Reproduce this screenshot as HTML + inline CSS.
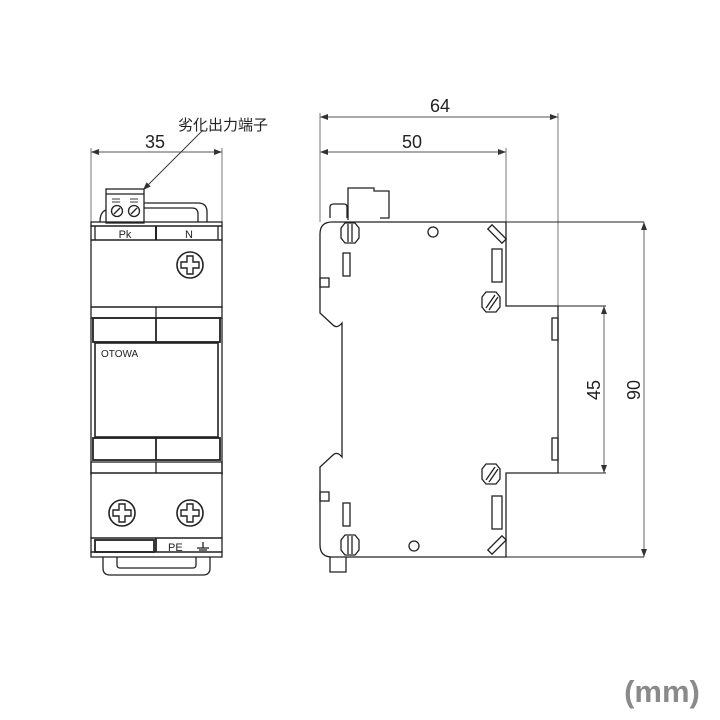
<!DOCTYPE html>
<html><head><meta charset="utf-8"><style>
html,body{margin:0;padding:0;background:#fff;}
svg{display:block;}
text{font-family:"Liberation Sans","Noto Sans CJK JP",sans-serif;}
</style></head><body>
<svg width="720" height="720" viewBox="0 0 720 720" xmlns="http://www.w3.org/2000/svg">
<defs>
<marker id="ar" markerWidth="8" markerHeight="6" refX="8" refY="3" orient="auto-start-reverse" markerUnits="userSpaceOnUse">
<path d="M0,0 L8,3 L0,6 z" fill="#333"/></marker>
<g id="scr"><circle r="13" fill="#fff" stroke="#222" stroke-width="1.6"/>
<path d="M-3,-9 h6 v6 h6 v6 h-6 v6 h-6 v-6 h-6 v-6 h6 z" fill="none" stroke="#222" stroke-width="1.4"/></g>
<g id="hex"><polygon points="-9,-5 -5,-10 5,-10 9,-5 9,5 5,10 -5,10 -9,5" fill="#fff" stroke="#222" stroke-width="1.3"/>
<line x1="-2" y1="-9" x2="-2" y2="9" stroke="#222"/><line x1="2" y1="-9" x2="2" y2="9" stroke="#222"/></g>
<g id="hex2"><polygon points="-9,-5 -5,-10 5,-10 9,-5 9,5 5,10 -5,10 -9,5" fill="#fff" stroke="#222" stroke-width="1.3"/>
<line x1="-5" y1="6" x2="4" y2="-7" stroke="#222"/><line x1="-2" y1="8" x2="7" y2="-5" stroke="#222"/></g>
</defs>
<g fill="none" stroke="#222" stroke-width="1.3">
<!-- FRONT VIEW -->
<line x1="91" y1="148" x2="91" y2="222" stroke="#555" stroke-width="0.8"/>
<line x1="222" y1="148" x2="222" y2="222" stroke="#555" stroke-width="0.8"/>
<line x1="91" y1="152" x2="222" y2="152" stroke="#555" stroke-width="0.9" marker-start="url(#ar)" marker-end="url(#ar)"/>
<line x1="143" y1="190" x2="203" y2="130" stroke="#333" stroke-width="0.9" marker-start="url(#ar)"/>
<path d="M144,203 H198 Q207,203 207,212 V222"/>
<path d="M144,208 H192 Q198,208 198,214 V222"/>
<path d="M100,222 Q100,212 106,210"/>
<rect x="106" y="189" width="38" height="34" fill="#fff"/>
<line x1="106" y1="194" x2="144" y2="194"/>
<line x1="112" y1="199" x2="120" y2="199" stroke-width="0.9"/><line x1="112" y1="202" x2="120" y2="202" stroke-width="0.9"/>
<line x1="130" y1="199" x2="138" y2="199" stroke-width="0.9"/><line x1="130" y1="202" x2="138" y2="202" stroke-width="0.9"/>
<circle cx="117" cy="211" r="5.5"/><circle cx="134" cy="211" r="5.5"/>
<line x1="114" y1="214" x2="120" y2="208"/><line x1="131" y1="214" x2="137" y2="208"/>
<rect x="91" y="222" width="131" height="4"/>
<rect x="91" y="226" width="131" height="14"/>
<line x1="95" y1="226" x2="95" y2="240"/><line x1="218" y1="226" x2="218" y2="240"/>
<line x1="156" y1="226" x2="156" y2="240" stroke-width="2"/>
<rect x="91" y="240" width="131" height="67"/>
<use href="#scr" x="190" y="265"/>
<rect x="91" y="307" width="131" height="11"/>
<line x1="156" y1="307" x2="156" y2="318"/>
<rect x="93" y="318" width="127" height="24" stroke-width="1.8"/>
<line x1="156" y1="318" x2="156" y2="342" stroke-width="1.8"/>
<line x1="91" y1="318" x2="91" y2="475"/><line x1="222" y1="318" x2="222" y2="475"/>
<rect x="95" y="343" width="123" height="94" stroke-width="1.6"/>
<rect x="93" y="438" width="127" height="22" stroke-width="1.8"/>
<line x1="156" y1="438" x2="156" y2="460" stroke-width="1.8"/>
<rect x="91" y="462" width="131" height="11"/>
<line x1="156" y1="462" x2="156" y2="473"/>
<rect x="91" y="473" width="131" height="65"/>
<use href="#scr" x="122" y="513"/>
<use href="#scr" x="190" y="513"/>
<rect x="91" y="538" width="131" height="14"/>
<rect x="95" y="540" width="59" height="12" stroke-width="1.8"/>
<line x1="156" y1="538" x2="156" y2="552" stroke-width="1.8"/>
<line x1="203" y1="542" x2="203" y2="548"/><line x1="197" y1="548" x2="209" y2="548"/><line x1="199" y1="550" x2="207" y2="550"/>
<rect x="91" y="552" width="131" height="5"/>
<path d="M103,557 V568 Q103,575 110,575 H203 Q210,575 210,568 V557"/>
<path d="M117,557 V565 Q117,568 120,568 H193 Q196,568 196,565 V557"/>

<!-- SIDE VIEW -->
<line x1="320" y1="113" x2="320" y2="222" stroke="#555" stroke-width="0.8"/>
<line x1="558" y1="113" x2="558" y2="306" stroke="#555" stroke-width="0.8"/>
<line x1="506" y1="148" x2="506" y2="222" stroke="#555" stroke-width="0.8"/>
<line x1="320" y1="117" x2="558" y2="117" stroke="#555" stroke-width="0.9" marker-start="url(#ar)" marker-end="url(#ar)"/>
<line x1="320" y1="152" x2="506" y2="152" stroke="#555" stroke-width="0.9" marker-start="url(#ar)" marker-end="url(#ar)"/>
<line x1="506" y1="222" x2="644" y2="222" stroke-width="1"/>
<line x1="558" y1="306" x2="606" y2="306" stroke-width="1"/>
<line x1="558" y1="473" x2="606" y2="473" stroke-width="1"/>
<line x1="506" y1="557" x2="644" y2="557" stroke-width="1"/>
<line x1="604" y1="306" x2="604" y2="473" stroke="#555" stroke-width="0.9" marker-start="url(#ar)" marker-end="url(#ar)"/>
<line x1="644" y1="222" x2="644" y2="557" stroke="#555" stroke-width="0.9" marker-start="url(#ar)" marker-end="url(#ar)"/>
<path d="M348,220 V188 H374 V191 H389 V218 H380"/>
<path d="M330,218 V207 Q330,204 334,204 H344 Q347,204 347,207 V218"/>
<path d="M506,222 H332 Q320,222 320,234 V313 L333,325 Q337,329 342,323 V457 Q337,451 333,455 L320,467 V545 Q320,557 332,557 H506 V473 H558 V306 H506 V222"/>
<rect x="320" y="278" width="9" height="9"/><rect x="320" y="492" width="9" height="9"/>
<path d="M330,557 V572 H346 V557"/>
<use href="#hex" x="350" y="233"/>
<use href="#hex" x="350" y="545"/>
<use href="#hex2" x="491" y="302"/>
<use href="#hex2" x="491" y="474"/>
<rect x="343" y="253" width="7" height="23"/>
<rect x="343" y="503" width="7" height="23"/>
<rect x="492" y="249" width="10" height="33"/>
<rect x="492" y="496" width="10" height="33"/>
<circle cx="433" cy="232" r="5"/>
<circle cx="414" cy="546" r="5"/>
<rect x="494" y="224" width="6" height="20" transform="rotate(-45 497 234)"/>
<rect x="494" y="535" width="6" height="20" transform="rotate(45 497 545)"/>
<rect x="552" y="318" width="6" height="22"/>
<rect x="552" y="438" width="6" height="22"/>
</g>
<g fill="#222">
<text x="155" y="148" font-size="18" text-anchor="middle">35</text>
<text x="178" y="130" font-size="15">劣化出力端子</text>
<text x="125" y="238" font-size="11" text-anchor="middle">Pk</text>
<text x="189" y="238" font-size="11" text-anchor="middle">N</text>
<text x="101" y="357" font-size="10">OTOWA</text>
<text x="168" y="551" font-size="11">PE</text>
<text x="440" y="112" font-size="18" text-anchor="middle">64</text>
<text x="412" y="148" font-size="18" text-anchor="middle">50</text>
<text transform="translate(600,390) rotate(-90)" font-size="18" text-anchor="middle">45</text>
<text transform="translate(640,390) rotate(-90)" font-size="18" text-anchor="middle">90</text>
</g>
<text x="662" y="702" font-size="31" font-weight="bold" fill="#8a8a8a" text-anchor="middle">(mm)</text>
</svg>
</body></html>
